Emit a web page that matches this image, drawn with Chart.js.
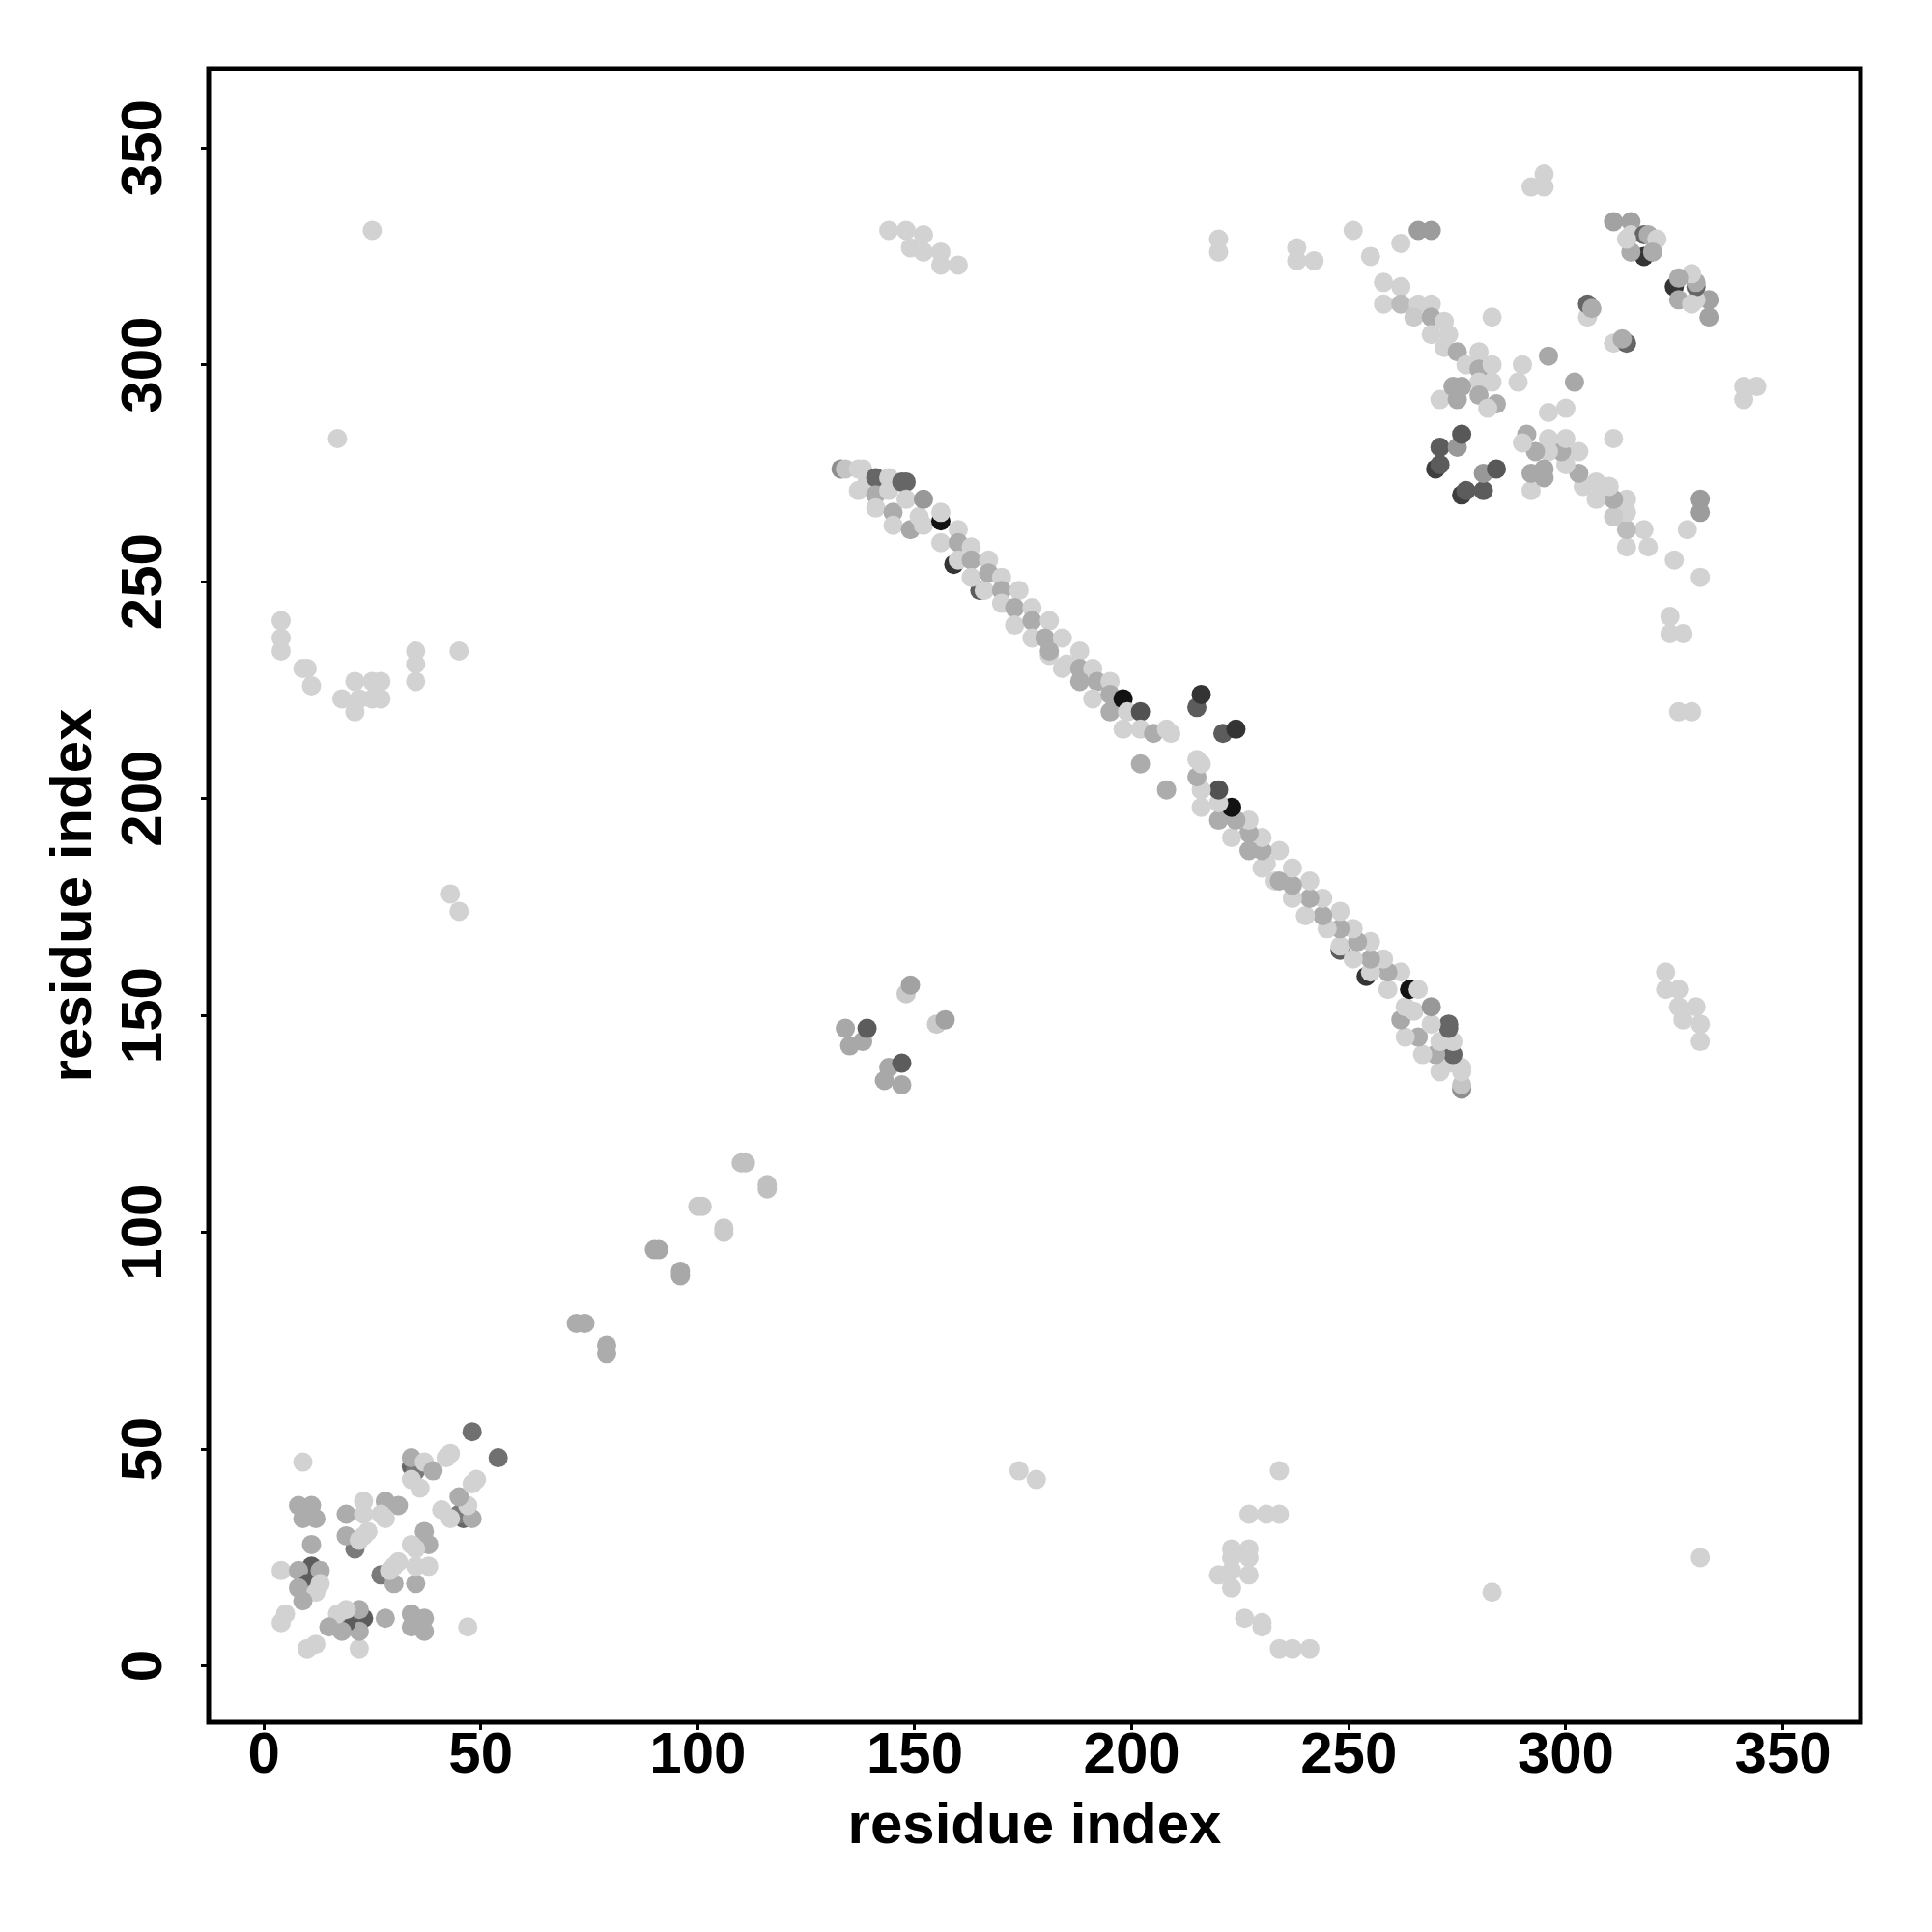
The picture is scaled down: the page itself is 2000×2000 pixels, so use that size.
<!DOCTYPE html>
<html><head><meta charset="utf-8">
<script src="https://cdn.jsdelivr.net/npm/chart.js@4/dist/chart.umd.min.js"></script>
<style>html,body{margin:0;padding:0;background:#fff}</style>
</head><body>
<canvas id="c" width="2000" height="2000" style="width:2000px;height:2000px;display:block"></canvas>
<script>
// Contact map: each contact (residue i, residue j, probability). The map is symmetric: both (i,j) and (j,i) are shown.
const resI = [
 48,9,34,35,34,36,37,39,42,43,34,8,11,9,12,11,19,23,28,31,27,23,21,19,23,24,22,28,11,4,8,13,10,8,13,12,9,5,4,
 72,74,90,91,100,101,110,111,
 134,135,138,139,148,149,
 43,45,17,25,
 4,4,4,9,10,11,18,21,22,21,25,27,25,27,35,35,35,45,
 144,148,152,149,152,156,156,160,220,220,238,238,242,251,255,262,266,269,292,295,295,
 258,262,258,262,266,269,265,269,269,272,273,272,275,280,277,280,283,283,280,271,274,276,275,280,284,282,290,289,296,283,305,305,306,
 270,271,271,275,276,
 311,315,315,318,319,321,318,315,320,314,
 133,134,137,138,137,139,141,144,141,141,144,147,148,145,145,149,148,151,152,152,156,156,156,160,160,159,160,163,163,165,166,163,167,167,170,170,170,174,173,173,177,177,177,181,180,181,184,184,181,188,185,188,191,188,192,195,191,195,195,198,199,202,198,202,205,208,209,202,215,216
];
const resJ = [
 54,47,46,45,48,41,47,45,48,49,43,37,37,34,34,28,35,38,38,37,35,35,27,30,30,31,29,34,23,22,22,22,19,18,19,17,15,12,10,
 79,79,96,96,106,106,116,116,
 147,143,144,147,155,157,
 178,174,283,331,
 241,237,234,230,230,226,223,227,223,220,227,227,223,223,234,231,227,234,
 331,331,330,327,326,326,323,323,329,326,327,324,324,331,325,328,331,331,341,344,341,
 319,318,314,314,314,314,311,311,307,310,307,304,303,303,300,299,300,296,296,292,295,295,292,293,291,290,300,296,302,311,311,314,313,
 276,277,281,281,284,
 333,333,330,330,330,329,325,326,326,329,
 276,276,276,276,271,273,274,274,270,267,271,273,273,266,263,262,269,265,269,263,264,266,259,262,259,254,255,258,255,248,248,251,255,252,251,248,245,248,244,240,244,241,237,241,237,233,237,230,234,234,231,230,230,227,227,227,223,224,220,223,220,220,216,216,215,216,215,208,221,224
];
const prob = [
 0.5,0.01,0.55,0.45,0.2,0.01,0.01,0.2,0.01,0.01,0.01,0.2,0.2,0.2,0.2,0.2,0.2,0.01,0.2,0.2,0.01,0.01,0.45,0.2,0.01,0.01,0.01,0.01,0.6,0.01,0.2,0.2,0.6,0.2,0.01,0.01,0.2,0.01,0.01,
 0.2,0.2,0.22,0.22,0.05,0.05,0.1,0.1,
 0.22,0.22,0.22,0.6,0.05,0.25,
 0.01,0.01,0.01,0.01,
 0.01,0.01,0.01,0.01,0.01,0.01,0.01,0.01,0.01,0.01,0.01,0.01,0.01,0.01,0.01,0.01,0.01,0.01,
 0.01,0.01,0.01,0.01,0.01,0.01,0.01,0.01,0.01,0.01,0.01,0.01,0.01,0.01,0.01,0.01,0.28,0.28,0.01,0.01,0.01,
 0.01,0.01,0.01,0.12,0.01,0.01,0.05,0.2,0.01,0.01,0.01,0.01,0.2,0.01,0.01,0.2,0.01,0.01,0.01,0.01,0.22,0.22,0.22,0.2,0.2,0.01,0.01,0.01,0.22,0.01,0.01,0.55,0.2,
 0.75,0.6,0.6,0.3,0.62,
 0.25,0.25,0.01,0.55,0.2,0.01,0.8,0.2,0.2,0.01,
 0.35,0.08,0.01,0.01,0.01,0.01,0.55,0.01,0.2,0.01,0.01,0.55,0.55,0.2,0.01,0.22,0.01,0.01,0.3,0.01,0.97,0.01,0.01,0.01,0.2,0.8,0.01,0.01,0.2,0.6,0.01,0.01,0.01,0.2,0.01,0.2,0.01,0.01,0.2,0.01,0.01,0.2,0.01,0.01,0.2,0.01,0.01,0.01,0.2,0.01,0.01,0.2,0.01,0.2,0.2,0.01,0.01,0.2,0.2,0.97,0.01,0.65,0.01,0.01,0.2,0.01,0.01,0.2,0.6,0.8
];
const tickValues = [0, 50, 100, 150, 200, 250, 300, 350];
const axisTitle = 'residue index';

function shade(p) { const g = Math.round(212 - 200 * p); return 'rgb(' + g + ',' + g + ',' + g + ')'; }
const points = [], colors = [];
for (let k = 0; k < resI.length; k++) {
  points.push({x: resI[k], y: resJ[k]}); colors.push(shade(prob[k]));
  points.push({x: resJ[k], y: resI[k]}); colors.push(shade(prob[k]));
}

const FONT = {family: '"Liberation Sans", Arial, Helvetica, sans-serif', size: 60, weight: 'bold'};
const frame = {
  id: 'frame',
  afterDraw(chart) {
    const {ctx, chartArea: a} = chart;
    ctx.save(); ctx.strokeStyle = '#000'; ctx.lineWidth = 5;
    ctx.strokeRect(a.left, a.top, a.right - a.left, a.bottom - a.top);
    ctx.restore();
  }
};
new Chart(document.getElementById('c'), {
  type: 'scatter',
  data: {datasets: [{data: points, pointBackgroundColor: colors, pointBorderWidth: 0, pointRadius: 10, pointHoverRadius: 10}]},
  options: {
    responsive: false, animation: false, events: [],
    layout: {padding: {left: 0, right: 74, top: 71, bottom: 0}},
    plugins: {legend: {display: false}, tooltip: {enabled: false}},
    scales: {
      x: {
        type: 'linear', min: -12.7, max: 367.9,
        afterBuildTicks: s => { s.ticks = tickValues.map(v => ({value: v})); },
        afterFit: s => { s.height = 217; },
        grid: {display: true, drawOnChartArea: false, drawTicks: true, tickLength: 8, color: '#000', lineWidth: 3},
        border: {display: false},
        ticks: {color: '#000', font: FONT, padding: -9, autoSkip: false, maxRotation: 0, minRotation: 0},
        title: {display: true, text: axisTitle, color: '#000', font: FONT, padding: {top: 0, bottom: 73}}
      },
      y: {
        type: 'linear', min: -13, max: 368.3,
        afterBuildTicks: s => { s.ticks = tickValues.map(v => ({value: v})); },
        afterFit: s => { s.width = 216; },
        grid: {display: true, drawOnChartArea: false, drawTicks: true, tickLength: 8, color: '#000', lineWidth: 3},
        border: {display: false},
        ticks: {color: '#000', font: FONT, padding: 7, autoSkip: false, minRotation: 90, maxRotation: 90, crossAlign: 'center'},
        title: {display: true, text: axisTitle, color: '#000', font: FONT, padding: {top: 41, bottom: 0}}
      }
    }
  },
  plugins: [frame]
});
</script>
</body></html>
